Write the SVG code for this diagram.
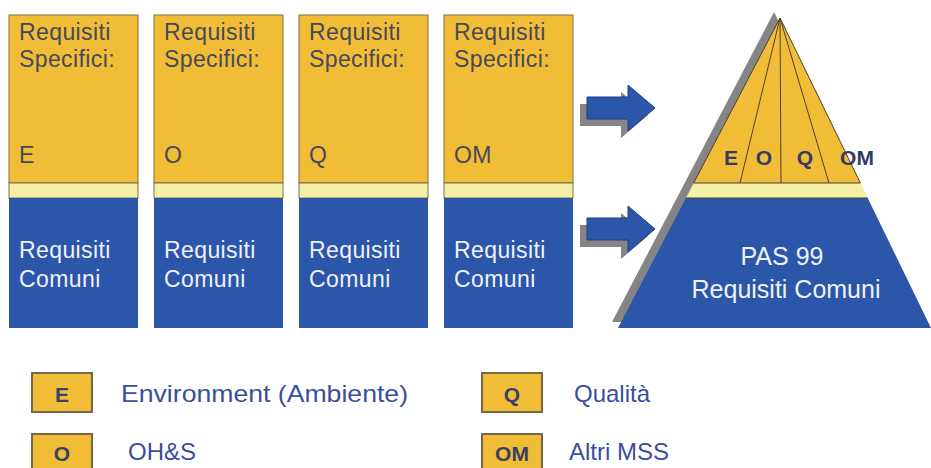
<svg xmlns="http://www.w3.org/2000/svg" width="931" height="468" viewBox="0 0 931 468">
<style>
.yel{fill:#F2BD36;stroke:#7f7046;stroke-width:1}
.band{fill:#F3EFA6;stroke:#7f7046;stroke-width:1}
.blu{fill:#2B56A9}
.t{font-family:"Liberation Sans",Arial,sans-serif;font-size:23px;letter-spacing:0.4px}
.dk{fill:#46495a}
.wt{fill:#EEF2FA}
.pt{font-family:"Liberation Sans",Arial,sans-serif;font-size:25px;fill:#EEF2FA;text-anchor:middle}
.lt{font-family:"Liberation Sans",Arial,sans-serif;font-size:24px;fill:#3a4f9c}
.lb{font-family:"Liberation Sans",Arial,sans-serif;font-size:21px;font-weight:bold;fill:#3a3f66;text-anchor:middle}
.pl{font-family:"Liberation Sans",Arial,sans-serif;font-size:21px;font-weight:bold;fill:#363b66;text-anchor:middle}
.lgbox{fill:#F2BD36;stroke:#77684a;stroke-width:2}
.arrow{fill:#2B56A9;stroke:#1f3f80;stroke-width:1}
.shadow{fill:#858585}
.div{stroke:#4a4030;stroke-width:1;fill:none}
</style>
<rect width="931" height="468" fill="#ffffff"/>

<g id="col-e">
<rect class="yel" x="9" y="15" width="129" height="168"/>
<rect class="band" x="9" y="183" width="129" height="15"/>
<rect class="blu" x="9" y="198" width="129" height="130"/>
<text class="t dk" x="19" y="40">Requisiti</text>
<text class="t dk" x="19" y="66.5">Specifici:</text>
<text class="t dk" x="19" y="163">E</text>
<text class="t wt" x="19" y="258">Requisiti</text>
<text class="t wt" x="19" y="287">Comuni</text>
</g>
<g id="col-o">
<rect class="yel" x="154" y="15" width="129" height="168"/>
<rect class="band" x="154" y="183" width="129" height="15"/>
<rect class="blu" x="154" y="198" width="129" height="130"/>
<text class="t dk" x="164" y="40">Requisiti</text>
<text class="t dk" x="164" y="66.5">Specifici:</text>
<text class="t dk" x="164" y="163">O</text>
<text class="t wt" x="164" y="258">Requisiti</text>
<text class="t wt" x="164" y="287">Comuni</text>
</g>
<g id="col-q">
<rect class="yel" x="299" y="15" width="129" height="168"/>
<rect class="band" x="299" y="183" width="129" height="15"/>
<rect class="blu" x="299" y="198" width="129" height="130"/>
<text class="t dk" x="309" y="40">Requisiti</text>
<text class="t dk" x="309" y="66.5">Specifici:</text>
<text class="t dk" x="309" y="163">Q</text>
<text class="t wt" x="309" y="258">Requisiti</text>
<text class="t wt" x="309" y="287">Comuni</text>
</g>
<g id="col-om">
<rect class="yel" x="444" y="15" width="129" height="168"/>
<rect class="band" x="444" y="183" width="129" height="15"/>
<rect class="blu" x="444" y="198" width="129" height="130"/>
<text class="t dk" x="454" y="40">Requisiti</text>
<text class="t dk" x="454" y="66.5">Specifici:</text>
<text class="t dk" x="454" y="163">OM</text>
<text class="t wt" x="454" y="258">Requisiti</text>
<text class="t wt" x="454" y="287">Comuni</text>
</g>

<g id="connectors">
<path class="shadow" d="M580,104 H621 V92 L648,115 L621,138 V126 H580 Z"/>
<path class="arrow" d="M587,97 H628 V85 L655,108 L628,131 V119 H587 Z"/>
<path class="shadow" d="M580,225 H621 V213 L648,236 L621,259 V247 H580 Z"/>
<path class="arrow" d="M587,218 H628 V206 L655,229 L628,252 V240 H587 Z"/>
</g>

<g id="pyramid">
<polygon class="shadow" points="774,12 612,322 927,322"/>
<polygon fill="#F2BD36" points="780,18 693.7,183 860.4,183"/>
<polygon fill="#F3EFA6" points="693.7,183 860.4,183 867.7,198 685.9,198"/>
<polygon fill="#2B56A9" points="685.9,198 867.7,198 931,328 618,328"/>
<line class="div" x1="693.7" y1="183" x2="860.4" y2="183"/>
<line class="div" x1="685.9" y1="198" x2="867.7" y2="198"/>
<line class="div" x1="780" y1="18" x2="740" y2="183"/>
<line class="div" x1="780" y1="18" x2="781" y2="183"/>
<line class="div" x1="780" y1="18" x2="829" y2="183"/>
<polyline class="div" points="693.7,183 780,18 860.4,183"/>
<text class="pl" x="731" y="165">E</text>
<text class="pl" x="764" y="165">O</text>
<text class="pl" x="805" y="165">Q</text>
<text class="pl" x="857" y="165">OM</text>
<text class="pt" x="782" y="265">PAS 99</text>
<text class="pt" x="786" y="298">Requisiti Comuni</text>
</g>

<g id="legend-e">
<rect class="lgbox" x="32" y="373" width="60" height="39"/>
<text class="lb" x="62" y="402">E</text>
<text class="lt" x="121" y="402" textLength="287" lengthAdjust="spacingAndGlyphs">Environment (Ambiente)</text>
</g>
<g id="legend-o">
<rect class="lgbox" x="32" y="434" width="60" height="39"/>
<text class="lb" x="62" y="461">O</text>
<text class="lt" x="128" y="460">OH&amp;S</text>
</g>
<g id="legend-q">
<rect class="lgbox" x="482" y="373" width="60" height="39"/>
<text class="lb" x="512" y="402">Q</text>
<text class="lt" x="574" y="402">Qualità</text>
</g>
<g id="legend-om">
<rect class="lgbox" x="482" y="434" width="60" height="39"/>
<text class="lb" x="512" y="461">OM</text>
<text class="lt" x="569" y="460">Altri MSS</text>
</g>
</svg>
